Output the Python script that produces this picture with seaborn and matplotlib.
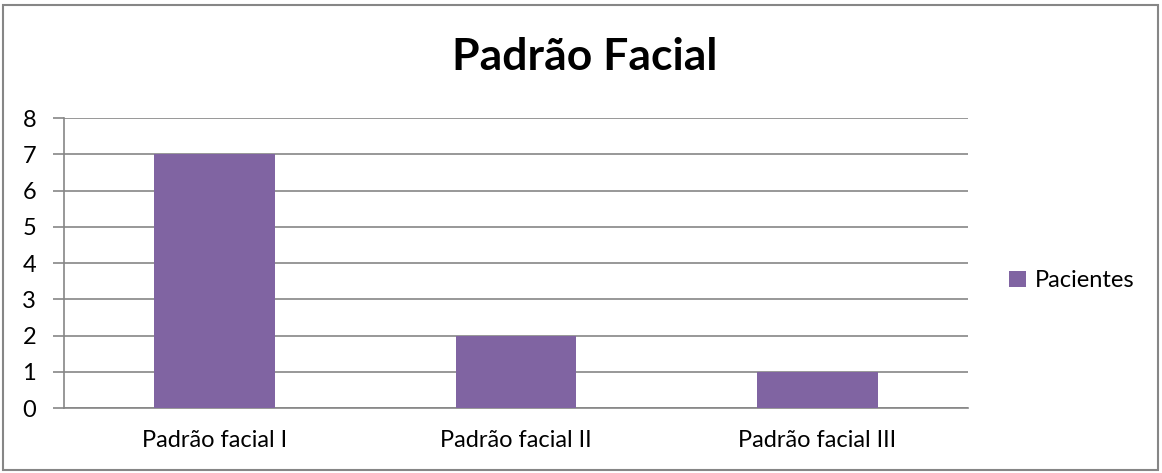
import matplotlib
matplotlib.use('Agg')
import matplotlib.pyplot as plt
import seaborn as sns
from matplotlib.patches import Rectangle

categorias = ['Padrão facial I', 'Padrão facial II', 'Padrão facial III']
pacientes = [7, 2, 1]
serie = 'Pacientes'
titulo = 'Padrão Facial'

sns.set_style('white')
plt.rcParams['font.family'] = ['Lato', 'DejaVu Sans']
plt.rcParams['text.color'] = 'black'

cor_barra = '#8064A2'
cor_linha = '#868686'

fig = plt.figure(figsize=(11.62, 4.73), dpi=100)
ax = fig.add_axes([64 / 1162, 1 - 408 / 473, (968 - 64) / 1162, (408 - 118) / 473])

sns.barplot(x=categorias, y=pacientes, color=cor_barra, width=0.4,
            saturation=1, label=serie, ax=ax, zorder=3, linewidth=0)

ax.set_xlim(-0.5, 2.5)
ax.set_ylim(0, 8)
ax.set_yticks(range(0, 9))
ax.yaxis.grid(True, color=cor_linha, linewidth=1.2, zorder=0)
ax.set_axisbelow(True)

ax.set_xticks([-0.5, 0.5, 1.5, 2.5], minor=True)
ax.tick_params(axis='x', which='major', length=0, pad=16, labelsize=17, colors='black')
ax.tick_params(axis='x', which='minor', length=6, width=1.2, color=cor_linha, direction='out')
ax.tick_params(axis='y', which='major', length=8, width=1.2, color=cor_linha,
               labelsize=17, pad=12, labelcolor='black', left=True)

for lado in ['top', 'right']:
    ax.spines[lado].set_visible(False)
for lado in ['left', 'bottom']:
    ax.spines[lado].set_color(cor_linha)
    ax.spines[lado].set_linewidth(1.2)

ax.set_xlabel('')
ax.set_ylabel('')

fig.text(585 / 1162, 1 - 57 / 473, titulo, ha='center', va='center',
         fontsize=32, fontweight='bold', color='black')

ax.legend(loc='center left', bbox_to_anchor=(1.022, 0.438), frameon=False,
          fontsize=17, handlelength=0.7, handleheight=0.7, handletextpad=0.4)

fig.patches.append(Rectangle((3 / 1162, 3 / 473), 1155 / 1162, 465 / 473,
                             transform=fig.transFigure, fill=False,
                             edgecolor=cor_linha, linewidth=1.5))

fig.savefig('out.png', dpi=100)
